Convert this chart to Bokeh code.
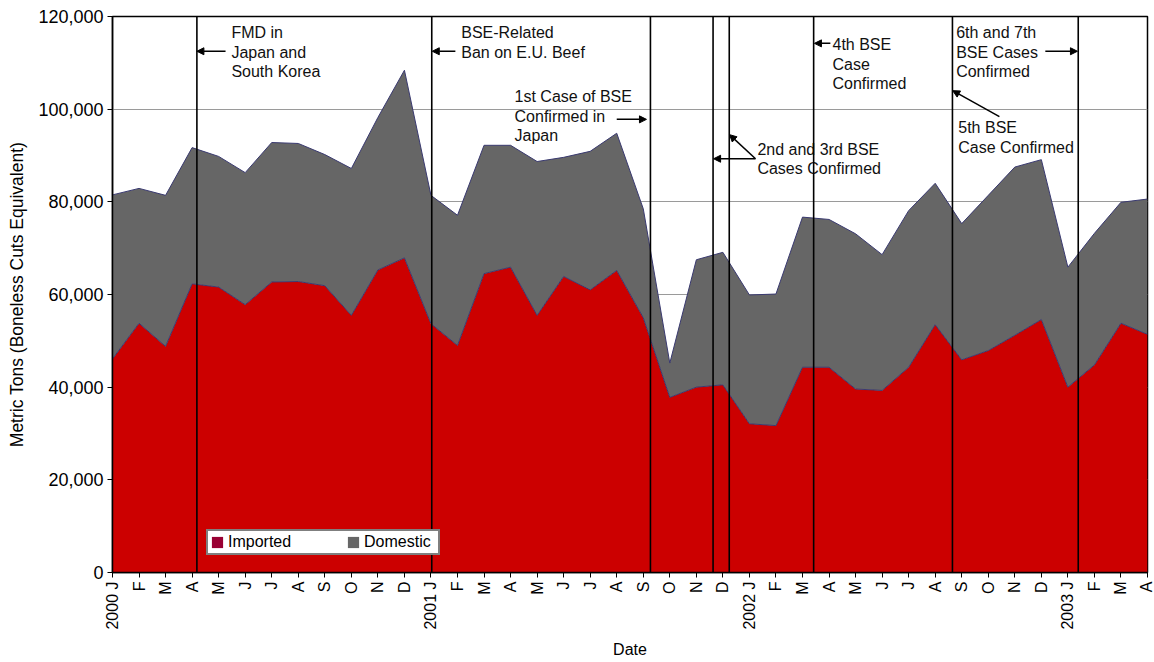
import math
from bokeh.plotting import figure
from bokeh.models import (Range1d, FixedTicker, NumeralTickFormatter, Span, Arrow,
                          NormalHead, ColumnDataSource, Legend, LegendItem)
from bokeh.core.properties import value
from bokeh.embed import file_html
from bokeh.resources import INLINE

# ---------------- data ----------------
years = ["2000", "2001", "2002", "2003"]
month_letters = ["J", "F", "M", "A", "M", "J", "J", "A", "S", "O", "N", "D"]
n_months = 40

imported = [46100, 53800, 48800, 62300, 61600, 57800, 62700, 62800, 61900, 55500, 65300, 67900,
            53700, 49000, 64500, 65900, 55500, 63900, 61000, 65200, 55000, 37800, 40000, 40500,
            32100, 31700, 44300, 44300, 39600, 39300, 44300, 53500, 45900, 47900, 51200, 54600,
            40000, 44800, 53800, 51400]
domestic = [35400, 29100, 32600, 29400, 28200, 28500, 30100, 29800, 28300, 31700, 32900, 40500,
            27700, 28100, 27700, 26300, 33200, 25700, 29900, 29600, 23500, 7400, 27500, 28600,
            27800, 28400, 32400, 31900, 33500, 29300, 33800, 30500, 29400, 33500, 36300, 34500,
            25900, 28400, 26100, 29200]

# event lines (month index, fractional)
event_positions = [3.18, 12.03, 20.27, 22.63, 23.24, 26.42, 31.65, 36.39]

# annotation text lines: (x month index, y value, text)
note_x = [4.48, 4.48, 4.48,
          13.14, 13.14,
          15.15, 15.15, 15.15,
          24.30, 24.30,
          27.13, 27.13, 27.13,
          31.79, 31.79, 31.79,
          31.87, 31.87]
note_y = [116600, 112200, 108100,
          116600, 112200,
          102700, 98400, 94300,
          91300, 87200,
          114000, 109600, 105500,
          116600, 112200, 108100,
          96000, 91700]
note_text = ["FMD in", "Japan and", "South Korea",
             "BSE-Related", "Ban on  E.U. Beef",
             "1st Case of BSE", "Confirmed in", "Japan",
             "2nd and 3rd BSE", "Cases Confirmed",
             "4th  BSE", "Case", "Confirmed",
             "6th and 7th", "BSE Cases", "Confirmed",
             "5th BSE", "Case  Confirmed"]

# arrows: (x_start, y_start, x_end, y_end)
arrow_x0 = [4.26, 12.92, 19.00, 24.23, 24.23, 27.05, 35.15, 33.42]
arrow_y0 = [112500, 112500, 97800, 89300, 89300, 114200, 112500, 98400]
arrow_x1 = [3.18, 12.05, 20.12, 22.65, 23.25, 26.45, 36.36, 31.66]
arrow_y1 = [112500, 112500, 97800, 89300, 94500, 114200, 112500, 104000]

# ---------------- derived ----------------
x = list(range(n_months))
tick_labels = []
for i in x:
    m = month_letters[i % 12]
    tick_labels.append(f"{years[i // 12]} {m}" if i % 12 == 0 else m)
total = [a + b for a, b in zip(imported, domestic)]

src = ColumnDataSource(dict(x=x, imported=imported, domestic=domestic, total=total))

FONT = "Liberation Sans"

p = figure(width=1154, height=662, output_backend="svg", toolbar_location=None,
           x_range=Range1d(0, n_months - 1), y_range=Range1d(0, 120000),
           min_border_left=112, min_border_top=16, min_border_right=7, min_border_bottom=90)
p.background_fill_color = "white"
p.border_fill_color = "white"
p.outline_line_color = "black"
p.outline_line_width = 1.5

p.varea_stack(["imported", "domestic"], x="x", source=src, color=["#CC0000", "#666666"])
p.line("x", "imported", source=src, line_color="#3a3a70", line_width=1)
p.line("x", "total", source=src, line_color="#3a3a70", line_width=1)

for pos in event_positions:
    p.add_layout(Span(location=pos, dimension="height", line_color="black", line_width=1.6))

nsrc = ColumnDataSource(dict(x=note_x, y=note_y, text=note_text))
p.text(x="x", y="y", text="text", source=nsrc, text_font=value(FONT),
       text_font_size="16px", text_baseline="middle", text_align="left", text_color="#111111")

for xs, ys, xe, ye in zip(arrow_x0, arrow_y0, arrow_x1, arrow_y1):
    p.add_layout(Arrow(end=NormalHead(size=7, fill_color="black", line_color="black", line_width=1),
                       x_start=xs, y_start=ys, x_end=xe, y_end=ye,
                       line_color="black", line_width=1.5))

# axes
p.xaxis.ticker = FixedTicker(ticks=x)
p.xaxis.major_label_overrides = {i: t for i, t in zip(x, tick_labels)}
p.xaxis.major_label_orientation = math.pi / 2
p.xaxis.major_label_text_font = FONT
p.xaxis.major_label_text_font_size = "16px"
p.xaxis.major_label_text_color = "black"
p.xaxis.major_label_standoff = 4
p.xaxis.major_tick_out = 5
p.xaxis.major_tick_in = 0
p.xaxis.minor_tick_line_color = None
p.xaxis.axis_label = "Date"
p.xaxis.axis_label_standoff = 8

p.yaxis.ticker = FixedTicker(ticks=[0, 20000, 40000, 60000, 80000, 100000, 120000])
p.yaxis.formatter = NumeralTickFormatter(format="0,0")
p.yaxis.major_label_text_font = FONT
p.yaxis.major_label_text_font_size = "18px"
p.yaxis.major_label_text_color = "black"
p.yaxis.major_label_standoff = 4
p.yaxis.major_tick_out = 5
p.yaxis.major_tick_in = 0
p.yaxis.minor_tick_line_color = None
p.yaxis.axis_label = "Metric Tons (Boneless Cuts Equivalent)"
p.yaxis.axis_label_standoff = 8

for ax in (p.xaxis, p.yaxis):
    ax.axis_line_color = "black"
    ax.axis_line_width = 1.5
    ax.major_tick_line_color = "black"
    ax.axis_label_text_font = FONT
    ax.axis_label_text_font_style = "normal"
    ax.axis_label_text_color = "black"
p.xaxis.axis_label_text_font_size = "16px"
p.yaxis.axis_label_text_font_size = "17.5px"

p.xgrid.visible = False
p.ygrid.ticker = FixedTicker(ticks=[20000, 40000, 60000, 80000, 100000])
p.ygrid.grid_line_color = "#9a9a9a"
p.ygrid.grid_line_width = 1
p.ygrid.level = "underlay"

# legend swatches (placeholders: only the legend shows them)
nan = float("nan")
r_imp = p.quad(left=[nan], right=[nan], top=[nan], bottom=[nan], fill_color="#990033", line_color=None)
r_dom = p.quad(left=[nan], right=[nan], top=[nan], bottom=[nan], fill_color="#666666", line_color=None)
legend = Legend(items=[LegendItem(label="Imported", renderers=[r_imp]),
                       LegendItem(label="Domestic", renderers=[r_dom])],
                location=(94, 17), orientation="horizontal",
                glyph_width=14, glyph_height=14, label_standoff=4, spacing=46,
                padding=2, margin=0, label_height=12, label_width=72,
                label_text_font=FONT, label_text_font_size="16px", label_text_color="black",
                border_line_color="black", border_line_width=2,
                background_fill_color="white", background_fill_alpha=1)
p.add_layout(legend)

open("out.html", "w").write(file_html(p, INLINE))
